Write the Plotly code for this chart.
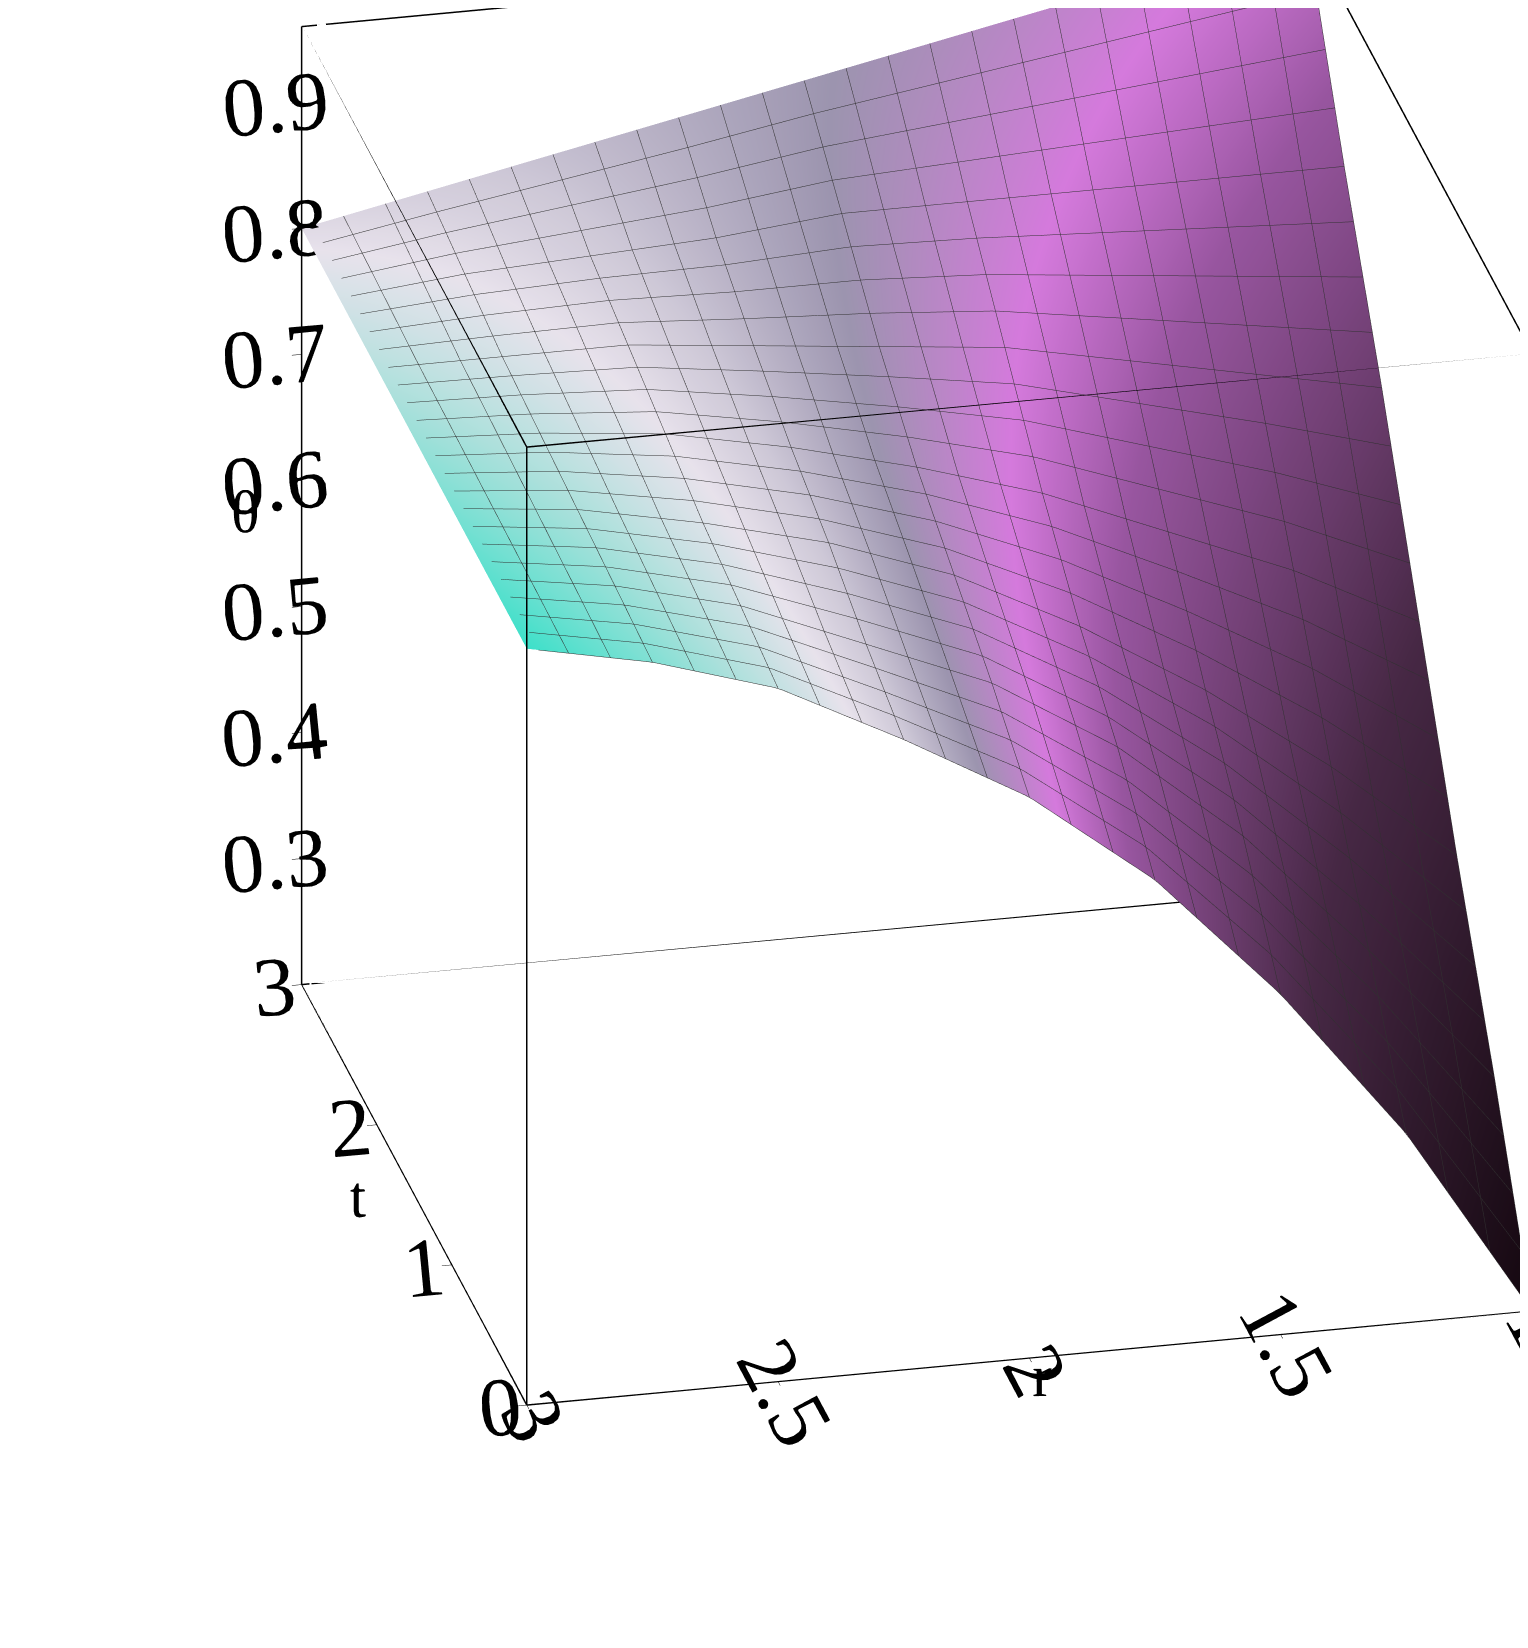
import numpy as np
import plotly.graph_objects as go

# values
r_vals = [1.0, 1.25, 1.5, 1.75, 2.0, 2.25, 2.5, 2.75, 3.0]
t_vals = [0.0, 0.5, 1.0, 1.5, 2.0, 2.5, 3.0]
theta = [
    [0.20, 0.35, 0.47, 0.57, 0.645, 0.70, 0.75, 0.78, 0.80],
    [0.33, 0.44, 0.54, 0.62, 0.68, 0.72, 0.76, 0.785, 0.80],
    [0.45, 0.53, 0.60, 0.66, 0.71, 0.745, 0.77, 0.79, 0.80],
    [0.58, 0.63, 0.67, 0.71, 0.74, 0.765, 0.785, 0.795, 0.80],
    [0.71, 0.73, 0.75, 0.77, 0.78, 0.79, 0.80, 0.80, 0.80],
    [0.83, 0.83, 0.83, 0.83, 0.83, 0.82, 0.815, 0.81, 0.80],
    [0.96, 0.94, 0.92, 0.90, 0.88, 0.86, 0.84, 0.82, 0.80],
]
r_ticks = [1, 1.5, 2, 2.5, 3]
t_ticks = [0, 1, 2, 3]
z_ticks = [0.3, 0.4, 0.5, 0.6, 0.7, 0.8, 0.9]
r_range = [1, 3]
t_range = [0, 3]
z_range = [0.2, 0.96]

# corner-blended shading: cyan (r=3,t=0), white (r=3,t=3), magenta (r=1,t=3), black (r=1,t=0)
R, T = np.meshgrid(r_vals, t_vals)
u = (3 - R) / 2
v = T / 3
surfcol = (1 - u) * (1 - v) * 1.0 + (1 - u) * v * 0.66 + u * v * 0.45

colorscale = [[0, "#150810"], [0.22, "#4a2a48"], [0.4, "#a05aa8"], [0.47, "#e080e8"],
              [0.55, "#a49cb8"], [0.62, "#d8d2e2"], [0.68, "#f4eef8"], [0.82, "#a8ece4"],
              [1, "#40ecd4"]]

fig = go.Figure(go.Surface(
    x=r_vals, y=t_vals, z=theta,
    surfacecolor=surfcol, colorscale=colorscale, cmin=0, cmax=1, showscale=False,
    lighting=dict(ambient=0.95, diffuse=0.2, specular=0.05),
    contours=dict(
        x=dict(show=True, start=1, end=3, size=2 / 24, color="#303030", width=1),
        y=dict(show=True, start=0, end=3, size=3 / 24, color="#303030", width=1),
    ),
))

# bounding box edges
edge = dict(color="black", width=3)
for a in r_range:
    for b in t_range:
        fig.add_trace(go.Scatter3d(x=[a, a], y=[b, b], z=z_range, mode="lines",
                                   line=edge, showlegend=False, hoverinfo="skip"))
    for c in z_range:
        fig.add_trace(go.Scatter3d(x=[a, a], y=t_range, z=[c, c], mode="lines",
                                   line=edge, showlegend=False, hoverinfo="skip"))
for b in t_range:
    for c in z_range:
        fig.add_trace(go.Scatter3d(x=r_range, y=[b, b], z=[c, c], mode="lines",
                                   line=edge, showlegend=False, hoverinfo="skip"))

axis_font = dict(family="Liberation Serif", size=32, color="black")
title_font = dict(family="Liberation Serif", size=60, color="black")
common = dict(showbackground=False, showgrid=False, zeroline=False, showline=True,
              linecolor="black", linewidth=2, ticks="outside", ticklen=10,
              tickcolor="black", tickfont=axis_font, showspikes=False)

fig.update_layout(
    width=1528, height=1648, paper_bgcolor="white", showlegend=False,
    margin=dict(l=0, r=0, t=0, b=0),
    scene=dict(
        xaxis=dict(title=dict(text="r", font=title_font), range=r_range[::-1], tickvals=r_ticks, **common),
        yaxis=dict(title=dict(text="t", font=title_font), range=t_range, tickvals=t_ticks, **common),
        zaxis=dict(title=dict(text="θ", font=title_font), range=z_range, tickvals=z_ticks, **common),
        aspectmode="manual", aspectratio=dict(x=1.25, y=1.25, z=1.28),
        camera=dict(eye=dict(x=-0.46, y=-1.25, z=0.39), center=dict(x=-0.18, y=0, z=-0.2),
                    projection=dict(type="orthographic")),
    ),
)

fig.write_html("out.html")
